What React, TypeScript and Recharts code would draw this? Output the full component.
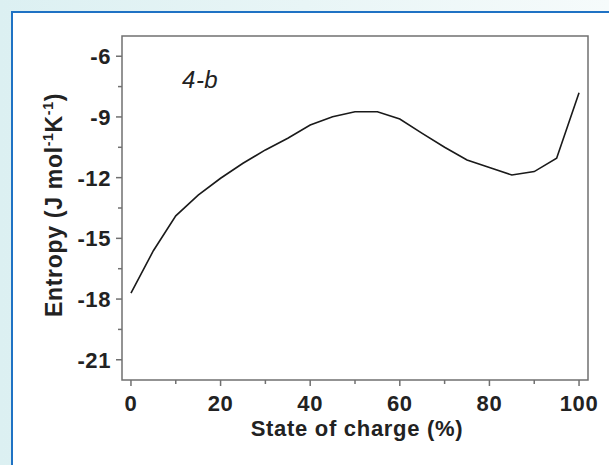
import React from 'react';
import {
  LineChart, Line, XAxis, YAxis, ReferenceArea, ReferenceDot,
} from 'recharts';

// state of charge (%) and entropy (J mol-1 K-1)
const socPercent = [0, 5, 10, 15, 20, 25, 30, 35, 40, 45, 50, 55, 60, 65, 70, 75, 80, 85, 90, 95, 100];
const entropy = [
  -17.71, -15.61, -13.89, -12.86, -12.03, -11.29, -10.63, -10.05, -9.4, -8.99, -8.74,
  -8.74, -9.1, -9.81, -10.5, -11.13, -11.5, -11.87, -11.7, -11.04, -7.8,
];

const xTicks = [0, 10, 20, 30, 40, 50, 60, 70, 80, 90, 100];
const xMajor = [0, 20, 40, 60, 80, 100];
const yTicks = [-21, -19.5, -18, -16.5, -15, -13.5, -12, -10.5, -9, -7.5, -6];
const yMajor = [-21, -18, -15, -12, -9, -6];
const panelLabel = '4-b';

const data = socPercent.map((s, i) => ({ soc: s, entropy: entropy[i] }));

const FONT = '"Liberation Sans", Arial, Helvetica, sans-serif';
const AXIS = '#707070';
const TEXT = '#222';

const XTick = ({ x, y, payload }: any) => {
  const major = xMajor.includes(payload.value);
  return (
    <g>
      <line x1={x} x2={x} y1={y} y2={y + (major ? 6 : 4)} stroke={AXIS} strokeWidth={1.5} />
      {major && (
        <text x={x} y={y + 31} textAnchor="middle" fontFamily={FONT} fontWeight="bold" fontSize={22} letterSpacing={0.6} fill={TEXT}>
          {payload.value}
        </text>
      )}
    </g>
  );
};

const YTick = ({ x, y, payload }: any) => {
  const major = yMajor.includes(payload.value);
  return (
    <g>
      <line x1={x - (major ? 6 : 4)} x2={x} y1={y} y2={y} stroke={AXIS} strokeWidth={1.5} />
      {major && (
        <text x={x - 11} y={y + 8} textAnchor="end" fontFamily={FONT} fontWeight="bold" fontSize={22} letterSpacing={0.6} fill={TEXT}>
          {payload.value}
        </text>
      )}
    </g>
  );
};

const YTitle = ({ viewBox }: any) => {
  const cy = viewBox.y + viewBox.height / 2 - 3;
  const cx = 62;
  return (
    <text
      x={cx} y={cy} textAnchor="middle" transform={`rotate(-90, ${cx}, ${cy})`}
      fontFamily={FONT} fontWeight="bold" fontSize={23} letterSpacing={0.7} fill={TEXT}
    >
      Entropy (J mol<tspan fontSize={14} dy={-9}>-1</tspan>
      <tspan dy={9}>K</tspan>
      <tspan fontSize={14} dy={-9}>-1</tspan>
      <tspan dy={9}>)</tspan>
    </text>
  );
};

const XTitle = ({ viewBox }: any) => (
  <text
    x={viewBox.x + viewBox.width / 2 + 2} y={436} textAnchor="middle"
    fontFamily={FONT} fontWeight="bold" fontSize={22} letterSpacing={0.7} fill={TEXT}
  >
    State of charge (%)
  </text>
);

const PanelTag = ({ cx, cy }: any) => (
  <text x={cx} y={cy} fontFamily={FONT} fontStyle="italic" fontSize={24} letterSpacing={0.5} fill={TEXT}>
    {panelLabel}
  </text>
);

export default function App() {
  return (
    <div
      style={{
        position: 'absolute', left: 0, top: 0, width: 609, height: 465, overflow: 'hidden',
        background: 'linear-gradient(90deg, #dcf0f2 0%, #e8f5f6 50%, #f6fbfb 100%)',
      }}
    >
      <div
        style={{
          position: 'absolute', left: 11, top: 11, right: 0, bottom: 0, background: '#fff',
          borderTop: '2px solid #1f72c4', borderLeft: '2px solid #1f72c4',
        }}
      />
      <LineChart
        width={609}
        height={465}
        data={data}
        margin={{ top: 36, right: 21, bottom: 0, left: 0 }}
        style={{ position: 'absolute', left: 0, top: 0 }}
      >
        <XAxis
          dataKey="soc" type="number" domain={[-2, 102]} ticks={xTicks} interval={0}
          height={85} axisLine={false} tickLine={false} tickSize={0} tickMargin={0}
          tick={<XTick />} label={{ content: <XTitle /> }}
        />
        <YAxis
          type="number" domain={[-22, -5]} ticks={yTicks} interval={0}
          width={122} axisLine={false} tickLine={false} tickSize={0} tickMargin={0}
          tick={<YTick />} label={{ content: <YTitle /> }}
        />
        <ReferenceArea x1={-2} x2={102} y1={-22} y2={-5} fill="none" stroke={AXIS} strokeWidth={1.5} />
        <ReferenceDot x={11.4} y={-7.57} r={0} shape={<PanelTag />} />
        <Line
          type="linear" dataKey="entropy" stroke="#1a1a1a" strokeWidth={1.6}
          dot={false} isAnimationActive={false}
        />
      </LineChart>
    </div>
  );
}
